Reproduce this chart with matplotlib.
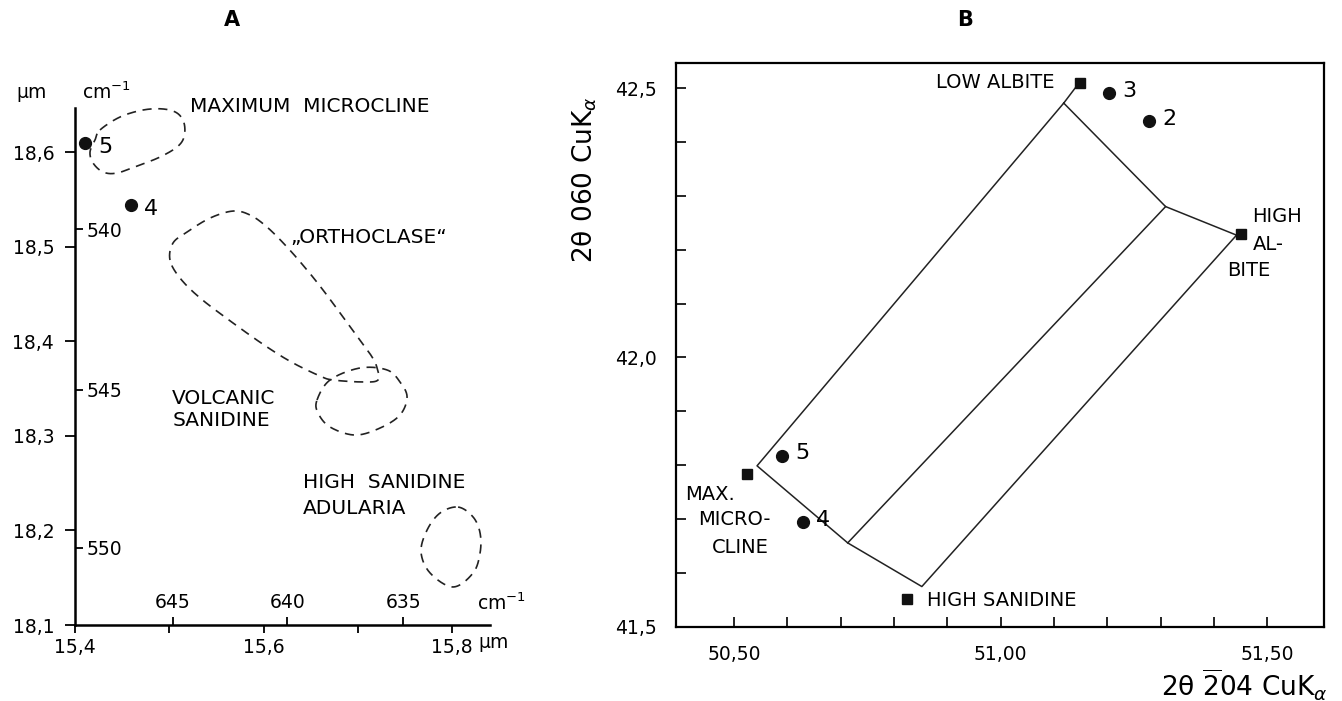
import numpy as np
import matplotlib
matplotlib.use("Agg")
import matplotlib.pyplot as plt

plt.rcParams['font.family'] = ['DejaVu Sans']
plt.rcParams['mathtext.fontset'] = 'dejavusans'

# ---- panel A data (wavelength, um) ----
a_pt_x = [15.411, 15.459]
a_pt_y = [18.609, 18.544]
a_pt_lab = ['5', '4']

a_yticks = [18.1, 18.2, 18.3, 18.4, 18.5, 18.6]
a_ylabels = ['18,1', '18,2', '18,3', '18,4', '18,5', '18,6']
a_xticks = [15.4, 15.5, 15.6, 15.7, 15.8]
a_xlabels = ['15,4', '', '15,6', '', '15,8']
a_wn_y = [540, 545, 550]
a_wn_x = [645, 640, 635]

# field outlines (um)
micro_x = [15.4265, 15.4477, 15.4721, 15.4933, 15.5082, 15.5156, 15.5156, 15.5082,
           15.4901, 15.4689, 15.4445, 15.4297, 15.4191, 15.4159, 15.4212]
micro_y = [18.6233, 18.637, 18.6444, 18.6455, 18.6412, 18.6307, 18.6159, 18.6053,
           18.5947, 18.5863, 18.5778, 18.5789, 18.5884, 18.600, 18.6127]
ortho_x = [15.5007, 15.5039, 15.5188, 15.5432, 15.5676, 15.5856, 15.6036, 15.6248,
           15.6460, 15.6630, 15.6842, 15.7022, 15.7150, 15.7203, 15.7213, 15.7054,
           15.6736, 15.6598, 15.6312, 15.6036, 15.5676, 15.5326, 15.5113]
ortho_y = [18.4858, 18.5038, 18.5154, 18.5302, 18.5376, 18.5334, 18.5207, 18.4996,
           18.4753, 18.4541, 18.4256, 18.4013, 18.3833, 18.3717, 18.3590, 18.3569,
           18.3590, 18.3632, 18.3770, 18.3939, 18.4192, 18.4457, 18.4668]
volc_x = [15.6566, 15.6704, 15.7022, 15.7309, 15.7446, 15.7521, 15.7446, 15.7234,
          15.6969, 15.6704, 15.6577]
volc_y = [18.3378, 18.3590, 18.3717, 18.3696, 18.3569, 18.3410, 18.3220, 18.3082,
          18.3008, 18.3093, 18.3241]
adul_x = [15.8062, 15.8221, 15.8295, 15.8295, 15.8221, 15.8008, 15.7765, 15.7669,
          15.7733, 15.7871]
adul_y = [18.2247, 18.2142, 18.1973, 18.1761, 18.1550, 18.1402, 18.1550, 18.1772,
          18.2004, 18.2184]

# ---- panel B data (2theta) ----
end_x = [51.148, 51.451, 50.524, 50.824]
end_y = [42.510, 42.229, 41.784, 41.551]
b_pt_x = [51.203, 51.278, 50.590, 50.629]
b_pt_y = [42.491, 42.439, 41.818, 41.695]
b_pt_lab = ['3', '2', '5', '4']

frame_x = [51.141, 51.118, 50.543, 50.713, 50.852, 51.442, 51.309, 51.118]
frame_y = [42.502, 42.472, 41.799, 41.656, 41.575, 42.227, 42.280, 42.472]
mid_x = [51.309, 50.713]
mid_y = [42.280, 41.656]

b_xticks = [50.5, 51.0, 51.5]
b_xlabels = ['50,50', '51,00', '51,50']
b_yticks = [41.5, 42.0, 42.5]
b_ylabels = ['41,5', '42,0', '42,5']


def smooth_closed(xs, ys, n=24):
    p = np.column_stack([xs, ys])
    m = len(p)
    t = np.linspace(0, 1, n, endpoint=False)[:, None]
    seg = []
    for i in range(m):
        p0, p1, p2, p3 = p[i - 1], p[i], p[(i + 1) % m], p[(i + 2) % m]
        seg.append(0.5 * (2 * p1 + (-p0 + p2) * t + (2 * p0 - 5 * p1 + 4 * p2 - p3) * t ** 2
                          + (-p0 + 3 * p1 - 3 * p2 + p3) * t ** 3))
    out = np.vstack(seg + [p[:1]])
    return out[:, 0], out[:, 1]


def inv(v):
    return 1e4 / np.asarray(v, dtype=float)


fig = plt.figure(figsize=(13.42, 7.01), dpi=100)

# ================= A =================
ax = fig.add_axes([0.0559, 0.1084, 0.3092, 0.7375])
ax.set_xlim(15.4, 15.84)
ax.set_ylim(18.1, 18.6465)
for s in ['top', 'right']:
    ax.spines[s].set_visible(False)
for s in ['left', 'bottom']:
    ax.spines[s].set_linewidth(1.8)
ax.set_yticks(a_yticks, a_ylabels)
ax.set_xticks(a_xticks, a_xlabels)
ax.tick_params(axis='y', direction='out', length=7, width=1.3, pad=8, labelsize=13.5)
ax.tick_params(axis='x', direction='out', length=6, width=1.3, pad=3, labelsize=13.5)

secy = ax.secondary_yaxis('left', functions=(inv, inv))
secy.set_yticks(a_wn_y, [str(v) for v in a_wn_y])
secy.tick_params(direction='in', length=6, width=1.3, pad=-8, labelsize=13.5)
secy.spines['left'].set_visible(False)
for lab in secy.get_yticklabels():
    lab.set_horizontalalignment('left')

secx = ax.secondary_xaxis('bottom', functions=(inv, inv))
secx.set_xticks(a_wn_x, [str(v) for v in a_wn_x])
secx.tick_params(direction='in', length=6, width=1.3, pad=-9.5, labelsize=13.5)
secx.spines['bottom'].set_visible(False)
for lab in secx.get_xticklabels():
    lab.set_verticalalignment('bottom')

dash = (0, (5.5, 4))
for fx, fy in [(micro_x, micro_y), (ortho_x, ortho_y), (volc_x, volc_y), (adul_x, adul_y)]:
    sx, sy = smooth_closed(fx, fy)
    ax.plot(sx, sy, color='#222222', lw=1.2, linestyle=dash, clip_on=False)

ax.plot(a_pt_x, a_pt_y, 'o', color='#111111', ms=8.5, clip_on=False)
for x, y, t in zip(a_pt_x, a_pt_y, a_pt_lab):
    ax.text(x + 0.014, y - 0.004, t, fontsize=16, ha='left', va='center')

ax.text(15.522, 18.6476, 'MAXIMUM  MICROCLINE', fontsize=14.5, va='center')
ax.text(15.628, 18.510, '\u201eORTHOCLASE\u201c', fontsize=14.5, va='center')
ax.text(15.503, 18.328, 'VOLCANIC\nSANIDINE', fontsize=14.5, va='center', linespacing=1.2)
ax.text(15.642, 18.237, 'HIGH  SANIDINE\nADULARIA', fontsize=14.5, va='center', linespacing=1.45)

fig.text(32 / 1342, 1 - 92 / 701, 'μm', fontsize=13.5, ha='center', va='center')
fig.text(82 / 1342, 1 - 92 / 701, 'cm$^{-1}$', fontsize=13.5, ha='left', va='center')
fig.text(477 / 1342, 1 - 603 / 701, 'cm$^{-1}$', fontsize=13.5, ha='left', va='center')
fig.text(478 / 1342, 1 - 643 / 701, 'μm', fontsize=13.5, ha='left', va='center')
fig.text(232 / 1342, 1 - 20 / 701, 'A', fontsize=15, fontweight='bold', ha='center', va='center')

# ================= B =================
bx = fig.add_axes([0.5037, 0.1056, 0.4829, 0.8046])
bx.set_xlim(50.391, 51.606)
bx.set_ylim(41.5, 42.5465)
for s in bx.spines.values():
    s.set_linewidth(1.6)
bx.set_xticks(b_xticks, b_xlabels)
bx.set_yticks(b_yticks, b_ylabels)
bx.set_xticks(np.arange(50.6, 51.45, 0.1), minor=True)
bx.set_yticks(np.arange(41.6, 42.5, 0.1), minor=True)
bx.tick_params(which='both', direction='in', length=7, width=1.2, labelsize=13.5)
bx.tick_params(axis='y', pad=14)
bx.tick_params(axis='x', pad=13)

bx.plot(frame_x, frame_y, color='#222222', lw=1.1)
bx.plot(mid_x, mid_y, color='#222222', lw=1.1)
bx.plot(end_x, end_y, 's', color='#111111', ms=7.5)
bx.plot(b_pt_x, b_pt_y, 'o', color='#111111', ms=8.5)
for x, y, t in zip(b_pt_x, b_pt_y, b_pt_lab):
    bx.text(x + 0.025, y + 0.004, t, fontsize=16, ha='left', va='center')

bx.text(51.101, 42.511, 'LOW ALBITE', fontsize=14, ha='right', va='center')
bx.text(51.472, 42.261, 'HIGH', fontsize=14, ha='left', va='center')
bx.text(51.473, 42.209, 'AL-', fontsize=14, ha='left', va='center')
bx.text(51.425, 42.162, 'BITE', fontsize=14, ha='left', va='center')
bx.text(50.408, 41.745, 'MAX.', fontsize=14, ha='left', va='center')
bx.text(50.433, 41.699, 'MICRO-', fontsize=14, ha='left', va='center')
bx.text(50.459, 41.648, 'CLINE', fontsize=14, ha='left', va='center')
bx.text(50.861, 41.550, 'HIGH SANIDINE', fontsize=14, ha='left', va='center')

bx.text(-0.14, 0.793, r'2θ 060 CuK$_\alpha$', fontsize=19, rotation=90,
        ha='center', va='center', transform=bx.transAxes)
bx.text(1.005, -0.103, r'2θ $\overline{2}$04 CuK$_\alpha$', fontsize=19,
        ha='right', va='center', transform=bx.transAxes)
fig.text(965 / 1342, 1 - 20 / 701, 'B', fontsize=15, fontweight='bold', ha='center', va='center')

fig.savefig('out.png', dpi=100)
